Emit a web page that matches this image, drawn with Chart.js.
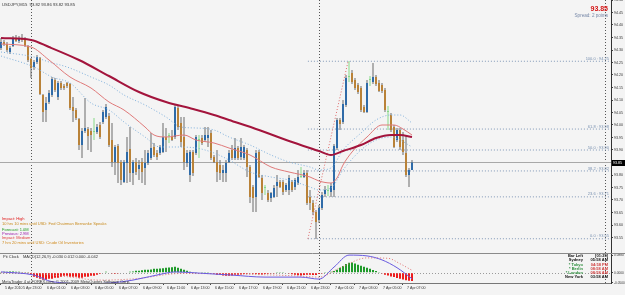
<!DOCTYPE html>
<html>
<head>
<meta charset="utf-8">
<script src="https://cdn.jsdelivr.net/npm/chart.js@4.4.1/dist/chart.umd.min.js"></script>
<style>
  html, body { margin: 0; padding: 0; background: #f4f4f4; }
  canvas { display: block; }
</style>
</head>
<body>
<canvas id="priceChart" width="625" height="295"></canvas>
<script>
// USDJPY M15 bars (bar 0 = first bar on the left)
const opens = [
  94.308, 94.332, 94.324, 94.292, 94.316, 94.348, 94.336, 94.344, 94.340, 94.316,
  94.264, 94.232, 94.252, 94.268, 94.120, 94.060, 94.092, 94.120, 94.180, 94.112,
  94.168, 94.156, 94.168, 94.164, 94.072, 94.060, 94.024, 93.920, 93.976, 93.984,
  93.976, 93.972, 93.972, 94.000, 94.012, 94.032, 94.036, 93.940, 93.852, 93.916,
  93.852, 93.772, 93.848, 93.904, 93.808, 93.852, 93.824, 93.852, 93.828, 93.848,
  93.868, 93.912, 93.888, 93.888, 93.892, 93.952, 93.956, 93.956, 93.952, 94.068,
  94.008, 93.952, 93.848, 93.800, 93.892, 93.888, 93.940, 93.948, 93.940, 93.948,
  93.968, 93.872, 93.852, 93.840, 93.808, 93.808, 93.852, 93.900, 93.868, 93.908,
  93.872, 93.868, 93.900, 93.832, 93.752, 93.712, 93.892, 93.788, 93.748, 93.728,
  93.708, 93.712, 93.756, 93.772, 93.772, 93.740, 93.740, 93.772, 93.752, 93.768,
  93.792, 93.792, 93.808, 93.712, 93.688, 93.652, 93.620, 93.668, 93.724, 93.736,
  93.732, 93.740, 93.908, 94.020, 94.012, 94.080, 94.192, 94.208, 94.180, 94.160,
  94.148, 94.072, 94.052, 94.180, 94.172, 94.192, 94.168, 94.160, 94.140, 94.052,
  94.040, 93.992, 93.940, 93.980, 93.940, 93.888, 93.800, 93.820
];
const highs = [
  94.348, 94.340, 94.332, 94.316, 94.356, 94.360, 94.356, 94.364, 94.352, 94.320,
  94.268, 94.260, 94.280, 94.272, 94.124, 94.112, 94.140, 94.192, 94.188, 94.176,
  94.176, 94.164, 94.172, 94.168, 94.112, 94.068, 94.028, 93.988, 94.108, 93.992,
  93.988, 94.028, 94.004, 94.012, 94.060, 94.084, 94.048, 94.008, 93.920, 93.924,
  93.860, 93.860, 93.952, 93.992, 93.860, 93.868, 93.860, 93.868, 93.900, 93.900,
  93.968, 93.928, 93.900, 93.920, 94.008, 93.988, 93.968, 93.980, 94.080, 94.076,
  94.032, 94.032, 93.900, 93.900, 93.900, 93.960, 93.960, 93.960, 93.992, 93.992,
  93.980, 93.880, 93.900, 93.860, 93.840, 93.860, 93.900, 93.920, 93.948, 93.916,
  93.948, 93.920, 93.908, 93.840, 93.760, 93.900, 93.900, 93.800, 93.760, 93.740,
  93.732, 93.760, 93.800, 93.780, 93.780, 93.768, 93.800, 93.780, 93.788, 93.820,
  93.832, 93.820, 93.820, 93.740, 93.700, 93.660, 93.680, 93.732, 93.756, 93.760,
  93.768, 93.924, 94.028, 94.028, 94.100, 94.200, 94.256, 94.220, 94.188, 94.168,
  94.156, 94.080, 94.180, 94.196, 94.248, 94.200, 94.180, 94.168, 94.148, 94.076,
  94.048, 94.000, 93.988, 93.988, 93.972, 93.960, 93.828, 93.860
];
const lows = [
  94.300, 94.316, 94.292, 94.284, 94.312, 94.332, 94.328, 94.332, 94.312, 94.252,
  94.188, 94.220, 94.244, 94.120, 94.012, 94.012, 94.084, 94.112, 94.132, 94.100,
  94.140, 94.140, 94.148, 94.060, 94.012, 94.020, 93.900, 93.868, 93.968, 93.900,
  93.892, 93.940, 93.964, 93.944, 94.004, 94.024, 93.912, 93.832, 93.800, 93.768,
  93.760, 93.768, 93.768, 93.772, 93.760, 93.800, 93.780, 93.768, 93.760, 93.840,
  93.860, 93.872, 93.860, 93.880, 93.888, 93.892, 93.928, 93.936, 93.944, 93.980,
  93.912, 93.820, 93.832, 93.772, 93.796, 93.880, 93.868, 93.920, 93.932, 93.912,
  93.860, 93.848, 93.772, 93.780, 93.772, 93.772, 93.848, 93.860, 93.860, 93.860,
  93.860, 93.860, 93.792, 93.688, 93.652, 93.652, 93.788, 93.700, 93.720, 93.692,
  93.692, 93.708, 93.712, 93.748, 93.720, 93.732, 93.720, 93.732, 93.740, 93.760,
  93.788, 93.788, 93.680, 93.660, 93.640, 93.544, 93.608, 93.660, 93.712, 93.716,
  93.712, 93.712, 93.900, 93.980, 94.004, 94.072, 94.172, 94.164, 94.140, 94.124,
  94.052, 94.048, 94.048, 94.156, 94.164, 94.156, 94.132, 94.128, 94.052, 93.980,
  93.972, 93.908, 93.932, 93.900, 93.880, 93.792, 93.752, 93.820
];
const closes = [
  94.332, 94.324, 94.300, 94.308, 94.348, 94.336, 94.344, 94.340, 94.316, 94.260,
  94.228, 94.252, 94.272, 94.124, 94.052, 94.088, 94.128, 94.184, 94.140, 94.168,
  94.148, 94.148, 94.156, 94.068, 94.056, 94.028, 93.920, 93.976, 93.988, 93.956,
  93.960, 93.972, 93.992, 93.952, 94.052, 94.072, 93.920, 93.852, 93.912, 93.848,
  93.780, 93.852, 93.892, 93.808, 93.852, 93.812, 93.840, 93.812, 93.848, 93.888,
  93.908, 93.880, 93.872, 93.912, 93.952, 93.940, 93.956, 93.940, 94.072, 93.992,
  93.932, 93.852, 93.888, 93.892, 93.808, 93.952, 93.940, 93.928, 93.960, 93.960,
  93.868, 93.852, 93.812, 93.808, 93.820, 93.848, 93.888, 93.868, 93.908, 93.868,
  93.912, 93.912, 93.832, 93.712, 93.708, 93.888, 93.792, 93.728, 93.748, 93.700,
  93.728, 93.748, 93.772, 93.752, 93.732, 93.760, 93.788, 93.740, 93.780, 93.792,
  93.792, 93.808, 93.688, 93.688, 93.652, 93.612, 93.668, 93.720, 93.740, 93.736,
  93.756, 93.916, 94.020, 94.004, 94.084, 94.188, 94.192, 94.172, 94.148, 94.132,
  94.060, 94.052, 94.168, 94.180, 94.192, 94.164, 94.136, 94.136, 94.060, 94.052,
  93.980, 93.912, 93.980, 93.912, 93.892, 93.800, 93.820, 93.850
];

// moving averages / bands, [bar, price] read at a few bars
const slowMa = [[0, 94.348], [10, 94.340], [16, 94.312], [26, 94.260], [36, 94.196], [46, 94.132],
  [55, 94.092], [64, 94.064], [71, 94.040], [76, 94.020], [86, 93.980], [96, 93.936], [106, 93.896],
  [110, 93.880], [114, 93.896], [120, 93.920], [125, 93.948], [130, 93.960], [133, 93.960], [137, 93.952]];
const fastMa = [[0, 94.324], [10, 94.312], [16, 94.260], [23, 94.192], [30, 94.148], [36, 94.092],
  [41, 94.060], [48, 93.992], [51, 93.960], [55, 93.952], [61, 93.960], [65, 93.940], [71, 93.928],
  [76, 93.908], [83, 93.880], [90, 93.832], [96, 93.812], [103, 93.792], [106, 93.776], [110, 93.768],
  [112, 93.788], [114, 93.840], [117, 93.892], [122, 93.952], [127, 94.000], [131, 94.000],
  [134, 93.984], [137, 93.960]];
const upperBand = [[0, 94.292], [11, 94.272], [16, 94.252], [22, 94.232], [30, 94.192], [36, 94.160],
  [41, 94.120], [48, 94.080], [55, 94.032], [60, 93.992], [65, 93.988], [71, 93.980], [76, 93.952],
  [83, 93.920], [90, 93.880], [96, 93.852], [103, 93.832], [106, 93.820], [110, 93.828],
  [114, 93.900], [120, 93.968], [125, 94.020], [130, 94.040], [133, 94.040], [137, 94.008]];
const lowerBand = [[0, 94.276], [11, 94.232], [17, 94.192], [23, 94.168], [30, 94.088], [36, 94.060],
  [41, 94.012], [48, 93.952], [53, 93.912], [58, 93.912], [65, 93.908], [71, 93.888], [76, 93.860],
  [83, 93.812], [90, 93.792], [96, 93.780], [103, 93.752], [106, 93.740], [110, 93.748],
  [114, 93.820], [120, 93.900], [125, 93.940], [130, 93.952], [133, 93.940], [137, 93.912]];

// MACD(12,26,9) window
const macdHist = [
  0.004, 0.005, 0.005, 0.006, 0.006, 0.005, 0.005, 0.004, 0.003, 0.001,
  -0.010, -0.020, -0.025, -0.030, -0.035, -0.035, -0.030, -0.030, -0.025, -0.025,
  -0.020, -0.015, -0.015, -0.020, -0.020, -0.020, -0.025, -0.025, -0.020, -0.020,
  -0.015, -0.015, -0.010, -0.005,
  0.000, 0.005, 0.002, -0.004, -0.005, -0.004, -0.003, 0.000, 0.002,
  0.005, 0.006, 0.010, 0.010, 0.012, 0.015, 0.015, 0.016, 0.020, 0.020,
  0.021, 0.022, 0.025, 0.026, 0.027, 0.030, 0.025, 0.020, 0.015, 0.010, 0.005,
  0.004, 0.001, 0.000, 0.004, 0.003, 0.001, -0.002,
  -0.005, -0.010, -0.010, -0.014, -0.015, -0.015, -0.014, -0.010, -0.010, -0.009, -0.006, -0.005, -0.004,
  -0.005, -0.006, -0.008, -0.009, -0.006, -0.005, -0.004, -0.002, 0.001, 0.003, 0.004, 0.002,
  -0.004, -0.008, -0.010, -0.013, -0.014, -0.011, -0.010, -0.010, -0.011, -0.012, -0.006,
  -0.002, 0.001, 0.003, 0.005, 0.008,
  0.015, 0.025, 0.034, 0.044, 0.050, 0.051, 0.046, 0.040, 0.035, 0.030, 0.025, 0.020, 0.014, 0.009, 0.004,
  -0.004, -0.010, -0.014, -0.019, -0.022, -0.026, -0.030, -0.034, -0.038, -0.040, -0.042
];
const macdMain = [[0, 0.004], [11, -0.012], [17, -0.045], [30, -0.055], [36, -0.052], [44, -0.037],
  [55, -0.002], [58, 0.004], [66, -0.002], [77, -0.012], [88, -0.022], [100, -0.022], [106, -0.032],
  [111, 0.028], [116, 0.088], [122, 0.084], [127, 0.064], [132, 0.025], [137, -0.030]];
const macdSignal = [[0, 0.000], [11, -0.003], [22, -0.020], [33, -0.037], [45, -0.030], [60, -0.004],
  [80, -0.007], [100, -0.017], [106, -0.022], [113, 0.024], [122, 0.074], [129, 0.072],
  [133, 0.045], [137, 0.012]];

// fibonacci retracement drawn on the chart
const fibLevels = [0, 23.6, 38.2, 50.0, 61.8, 100.0];
const fibLow = 93.545, fibLowBar = 102.3;
const fibHigh = 94.255, fibHighBar = 115.7;

// axis ticks
const priceTicks = [93.55, 93.60, 93.65, 93.70, 93.75, 93.80, 93.85, 93.90, 93.95, 94.00,
  94.05, 94.10, 94.15, 94.20, 94.25, 94.30, 94.35, 94.40, 94.45, 94.50];
const macdTicks = [0.0880, 0.0000, -0.0500];
const xTickBars = [0, 6, 14, 22, 30, 38, 46, 54, 62, 70, 78, 86, 94, 102, 110, 118, 126, 134];
const xTickLabels = ['5 Apr 2010', '5 Apr 23:00', '6 Apr 01:00', '6 Apr 03:00', '6 Apr 05:00',
  '6 Apr 07:00', '6 Apr 09:00', '6 Apr 11:00', '6 Apr 13:00', '6 Apr 15:00', '6 Apr 17:00',
  '6 Apr 19:00', '6 Apr 21:00', '6 Apr 23:00', '7 Apr 01:00', '7 Apr 03:00', '7 Apr 05:00',
  '7 Apr 07:00'];
const separatorBars = [10, 106];
const markerBar = 201.3;

const newsLines = [
  ['Impact: High', '#e01818'],
  ['10 hrs 10 mins until USD: Fed Chairman Bernanke Speaks', '#c88a1c'],
  ['Forecast: 1.0M', '#1c9a1c'],
  ['Previous: 2.9M', '#9a1caa'],
  ['Impact: Medium', '#e03a3a'],
  ['7 hrs 20 mins until USD: Crude Oil Inventories', '#d08a1c']
];
const clockRows = [
  ['Bar Left', '[01:29]', '#111', '#111'],
  ['Sydney', '05:58 AM', '#111', '#111'],
  ['* Tokyo', '04:58 PM', '#2f8f3f', '#d03c3c'],
  ['* Berlin', '08:58 AM', '#2f8f3f', '#d03c3c'],
  ['* London', '08:58 AM', '#2f8f3f', '#d03c3c'],
  ['New York', '03:58 AM', '#111', '#111']
];

const UP = '#2f6ba8';
const DOWN = '#b98238';
const DOJI = '#86d986';
const FONT = '"Liberation Sans", Arial, sans-serif';
const lastPrice = closes[closes.length - 1];
const xMax = 203 + 1 / 3;

const bodyColors = opens.map((o, i) => closes[i] > o ? UP : closes[i] < o ? DOWN : DOJI);
const wickColors = opens.map((o, i) => closes[i] === o ? DOJI : '#6a6a6a');
const toXY = pts => pts.map(([b, v]) => ({ x: b, y: v }));

function lineSet(points, color, width, dash, axis) {
  return {
    type: 'line',
    data: toXY(points),
    yAxisID: axis,
    borderColor: color,
    borderWidth: width,
    borderDash: dash,
    pointRadius: 0,
    tension: 0.4,
    cubicInterpolationMode: 'monotone',
    order: 1
  };
}

const fibSets = fibLevels.map(lvl => {
  const p = fibLow + (fibHigh - fibLow) * lvl / 100;
  return lineSet([[fibLowBar, p], [xMax, p]], '#8098b8', 1, [1, 2], 'y');
});

const mtOverlay = {
  id: 'mtOverlay',
  beforeDraw(chart) {
    const ctx = chart.ctx;
    ctx.save();
    ctx.fillStyle = '#f4f4f4';
    ctx.fillRect(0, 0, chart.width, chart.height);
    ctx.restore();
  },
  beforeDatasetsDraw(chart) {
    const { ctx, chartArea, scales } = chart;
    ctx.save();
    ctx.strokeStyle = '#555';
    ctx.lineWidth = 1;
    ctx.setLineDash([1, 2]);
    [...separatorBars, markerBar].forEach(b => {
      const px = Math.round(scales.x.getPixelForValue(b)) + 0.5;
      ctx.beginPath();
      ctx.moveTo(px, chartArea.top);
      ctx.lineTo(px, chartArea.bottom);
      ctx.stroke();
    });
    // zero level of the MACD window
    const zy = Math.round(scales.y2.getPixelForValue(0)) + 0.5;
    ctx.strokeStyle = '#9a9a9a';
    ctx.beginPath();
    ctx.moveTo(chartArea.left, zy);
    ctx.lineTo(chartArea.right, zy);
    ctx.stroke();
    ctx.restore();
  },
  afterDraw(chart) {
    const { ctx, scales } = chart;
    const t = (s, x, y, color, size, align, weight) => {
      ctx.font = (weight || 'normal') + ' ' + size + 'px ' + FONT;
      ctx.fillStyle = color;
      ctx.textAlign = align || 'left';
      ctx.textBaseline = 'middle';
      ctx.fillText(s, x, y);
    };
    ctx.save();

    // window separator
    const sepY = Math.round(scales.y.bottom) + 0.5;
    ctx.strokeStyle = '#8a8a8a';
    ctx.beginPath();
    ctx.moveTo(0, sepY);
    ctx.lineTo(chart.width, sepY);
    ctx.stroke();

    t('USDJPY,M15  93.82 93.86 93.82 93.85', 2, 5, '#333', 4.2);
    t('93.85', 608, 9, '#d41414', 7, 'right', 'bold');
    t('Spread: 2 points', 608, 15.5, '#7788a8', 4.6, 'right');

    // fib level captions
    fibLevels.forEach(lvl => {
      const p = fibLow + (fibHigh - fibLow) * lvl / 100;
      const py = scales.y.getPixelForValue(p);
      t(lvl.toFixed(1) + ' : ' + p.toFixed(2), 609, py - 2.5, '#7890b0', 4, 'right');
    });

    const newsY = [219, 223.5, 229.5, 233.5, 238, 242.5];
    newsLines.forEach(([s, c], k) => t(s, 2, newsY[k], c, 4));

    t('Pit Clock', 3, 256.5, '#333', 4);
    t('MACD(12,26,9) -0.030 0.012 0.000 -0.042', 23, 256.5, '#333', 4);
    t('MetaTrader 4 at FOREX.com, \u00a9 2001-2009 MetaQuotes Software Corp.', 2, 281.5, '#333', 4);

    clockRows.forEach(([a, b, ca, cb], k) => {
      const ry = 256 + k * 4.2;
      t(a, 583, ry, ca, 4, 'right', 'bold');
      t(b, 608, ry, cb, 4, 'right', 'bold');
    });

    // bid price tag on the axis
    const py = Math.round(scales.y.getPixelForValue(lastPrice));
    ctx.fillStyle = '#000';
    ctx.fillRect(612, py - 3, 13, 6);
    t(lastPrice.toFixed(2), 613, py + 0.2, '#fff', 3.6);
    ctx.restore();
  }
};

new Chart(document.getElementById('priceChart'), {
  type: 'bar',
  data: {
    datasets: [
      lineSet(slowMa, '#a3143c', 2, [], 'y'),
      lineSet(fastMa, '#e07a7a', 1, [], 'y'),
      lineSet(upperBand, '#7fb0dc', 1, [1, 2], 'y'),
      lineSet(lowerBand, '#7fb0dc', 1, [1, 2], 'y'),
      lineSet([[fibLowBar, fibLow], [fibHighBar, fibHigh]], '#e06a6a', 1, [1, 2], 'y'),
      ...fibSets,
      Object.assign(lineSet([[-1, lastPrice], [xMax, lastPrice]], '#a8a8a8', 1, [], 'y'), { order: 6 }),
      {
        data: opens.map((o, i) => ({ x: i, y: [lows[i], highs[i]] })),
        yAxisID: 'y',
        backgroundColor: wickColors,
        barThickness: 1,
        grouped: false,
        inflateAmount: 0,
        order: 5
      },
      {
        data: opens.map((o, i) => ({ x: i, y: [o, closes[i]] })),
        yAxisID: 'y',
        backgroundColor: bodyColors,
        barThickness: 2,
        minBarLength: 1,
        grouped: false,
        inflateAmount: 0,
        order: 4
      },
      {
        data: macdHist.map((v, i) => ({ x: i, y: v })),
        yAxisID: 'y2',
        backgroundColor: macdHist.map(v => v >= 0 ? '#1f9a2a' : '#ee1c1c'),
        barThickness: 2,
        grouped: false,
        inflateAmount: 0,
        order: 4
      },
      lineSet(macdMain, '#6a5ae0', 1, [], 'y2'),
      lineSet(macdSignal, '#e07070', 1, [1, 2], 'y2')
    ]
  },
  options: {
    responsive: false,
    animation: false,
    devicePixelRatio: 1,
    layout: { padding: 0 },
    plugins: { legend: { display: false }, tooltip: { enabled: false } },
    scales: {
      x: {
        type: 'linear',
        position: 'bottom',
        offset: false,
        min: -1 / 3,
        max: xMax,
        afterBuildTicks: s => { s.ticks = xTickBars.map(v => ({ value: v })); },
        afterFit: s => { s.height = 12; s.paddingLeft = 0; s.paddingRight = 0; },
        ticks: {
          callback: (v, i) => xTickLabels[i],
          font: { family: FONT, size: 3.6 },
          color: '#333',
          align: 'start',
          labelOffset: 4,
          padding: 1,
          maxRotation: 0,
          autoSkip: false
        },
        grid: { offset: false, drawOnChartArea: false, tickLength: 2, color: '#444' },
        border: { color: '#777' }
      },
      y: {
        type: 'linear',
        position: 'right',
        stack: 'win',
        stackWeight: 253,
        min: 93.488,
        max: 94.5,
        afterBuildTicks: s => { s.ticks = priceTicks.map(v => ({ value: v })); },
        afterFit: s => { s.width = 14; s.paddingTop = 0; s.paddingBottom = 0; },
        ticks: {
          callback: v => v.toFixed(2),
          font: { family: FONT, size: 3.6 },
          color: '#333',
          padding: 1,
          autoSkip: false
        },
        grid: { drawOnChartArea: false, tickLength: 2, color: '#444' },
        border: { color: '#333' }
      },
      y2: {
        type: 'linear',
        position: 'right',
        stack: 'win',
        stackWeight: 30,
        min: -0.0515,
        max: 0.0985,
        afterBuildTicks: s => { s.ticks = macdTicks.map(v => ({ value: v })); },
        afterFit: s => { s.width = 14; s.paddingTop = 0; s.paddingBottom = 0; },
        ticks: {
          callback: v => v.toFixed(4),
          font: { family: FONT, size: 3.2 },
          color: '#333',
          padding: 1,
          autoSkip: false
        },
        grid: { drawOnChartArea: false, tickLength: 2, color: '#444' },
        border: { color: '#333' }
      }
    }
  },
  plugins: [mtOverlay]
});
</script>
</body>
</html>
